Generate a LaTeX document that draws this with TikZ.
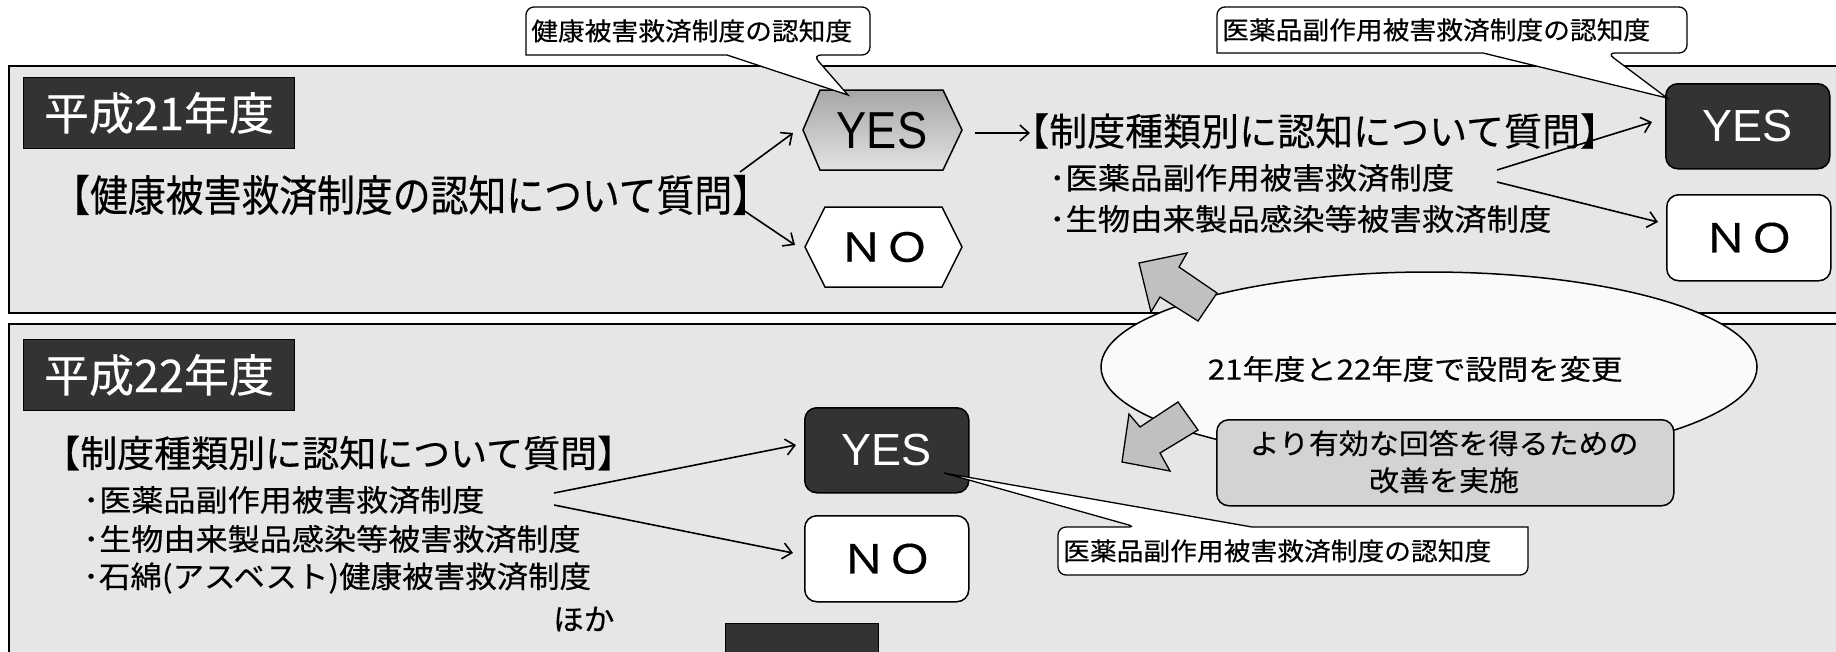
\documentclass[tikz,border=0pt]{standalone}
\usepackage{fontspec}
\usepackage{graphicx}
\setmainfont{Liberation Sans}
\newfontfamily\jp[FakeBold=0.35]{Noto Sans CJK JP}
\usetikzlibrary{arrows.meta}
\definecolor{panelgray}{HTML}{E6E6E6}
\definecolor{darkfill}{HTML}{333333}
\definecolor{hextop}{HTML}{A6A6A6}
\definecolor{hexbot}{HTML}{E2E2E2}
\definecolor{ellfill}{HTML}{FAFAFA}
\definecolor{blockfill}{HTML}{C0C0C0}
\definecolor{notefill}{HTML}{D3D3D3}
\newcommand{\jtxt}[3]{{\jp\fontsize{#1pt}{#1pt}\selectfont\scalebox{#2}[1]{#3}}}
\newcommand{\ltxt}[3]{{\fontsize{#1pt}{#1pt}\selectfont\scalebox{#2}[1]{#3}}}
\begin{document}
\begin{tikzpicture}[x=1pt,y=-1pt,
  panelst/.style={fill=panelgray,draw=black,line width=2.2pt},
  titlebox/.style={fill=darkfill,draw=black,line width=1pt,text=white,inner sep=0pt,minimum width=271pt,minimum height=71pt},
  darkbox/.style={fill=darkfill,draw=black,line width=1.5pt,rounded corners=12pt,text=white,inner sep=0pt,minimum width=164pt,minimum height=85pt},
  whitebox/.style={fill=white,draw=black,line width=1.5pt,rounded corners=12pt,inner sep=0pt,minimum width=164pt,minimum height=86pt},
  txt/.style={inner sep=0pt},
  arr/.style={line width=1.6pt,-{Straight Barb[length=9pt,width=16pt]}},
  hexst/.style={draw=black,line width=1.5pt},
  blockarr/.style={fill=blockfill,draw=black,line width=1.3pt,line join=miter},
  callst/.style={fill=white,draw=black,line width=1.3pt},
  notest/.style={fill=notefill,draw=black,line width=1.5pt,rounded corners=12pt,inner sep=0pt,minimum width=457pt,minimum height=86pt}
]
\useasboundingbox (0,0) rectangle (1836,651);
\clip (0,0) rectangle (1836,651);

% panels
\draw[panelst] (9,66) rectangle (1870,313);
\draw[panelst] (9,324) rectangle (1870,690);

% titles
\node[titlebox,anchor=north west] (t21) at (23,77) {\jtxt{45}{1.0}{平成21年度}};
\node[titlebox,anchor=north west] (t22) at (23,339) {\jtxt{45}{1.0}{平成22年度}};

% ---- panel 1
\node[txt,anchor=west] (q1) at (52,195) {\jtxt{43}{0.88}{【健康被害救済制度の認知について質問】}};

\draw[hexst,top color=hextop,bottom color=hexbot] (803,130) -- (820,90) -- (943,90) -- (962,130) -- (943,170) -- (820,170) -- cycle;
\node[txt] (hexyes) at (882,131) {\ltxt{52}{0.87}{YES}};
\draw[hexst,fill=white] (805,247) -- (825,207) -- (942,207) -- (962,247) -- (942,287) -- (825,287) -- cycle;
\node[txt] (hexno) at (884,247) {\jtxt{40}{1.15}{ＮＯ}};

\coordinate (q1a) at (740,172); \coordinate (hya) at (793,133);
\coordinate (q1b) at (743,210); \coordinate (hna) at (795,245);
\draw[arr] (q1a) -- (hya);
\draw[arr] (q1b) -- (hna);

\node[txt,anchor=west] (q2) at (1011,131) {\jtxt{38}{1}{【制度種類別に認知について質問】}};
\coordinate (hyb) at (975,133); \coordinate (q2a) at (1030,133);
\draw[arr] (hyb) -- (q2a);
\node[txt,anchor=west] (b11) at (1049,178) {\jtxt{30}{1.08}{･医薬品副作用被害救済制度}};
\node[txt,anchor=west] (b12) at (1049,219) {\jtxt{30}{1.08}{･生物由来製品感染等被害救済制度}};

\node[darkbox,anchor=north west] (y1) at (1665,83) {\ltxt{45}{1}{YES}};
\node[whitebox,anchor=north west] (n1) at (1666,194) {\jtxt{40}{1.15}{ＮＯ}};
\coordinate (b11a) at (1497,170); \coordinate (y1a) at (1652,122);
\coordinate (b11b) at (1497,182); \coordinate (n1a) at (1658,222);
\draw[arr] (b11a) -- (y1a);
\draw[arr] (b11b) -- (n1a);

% ---- panel 2
\node[txt,anchor=west] (q3) at (43,453) {\jtxt{37}{1}{【制度種類別に認知について質問】}};
\node[txt,anchor=west] (b21) at (83,500) {\jtxt{30}{1.07}{･医薬品副作用被害救済制度}};
\node[txt,anchor=west] (b22) at (83,539) {\jtxt{30}{1.07}{･生物由来製品感染等被害救済制度}};
\node[txt,anchor=west] (b23) at (83,578) {\jtxt{30}{1.05}{･石綿(アスベスト)健康被害救済制度}};
\node[txt,anchor=west] (b24) at (553,619) {\jtxt{30}{1.02}{ほか}};

\node[darkbox,anchor=north west] (y2) at (804,407) {\ltxt{45}{1}{YES}};
\node[whitebox,anchor=north west] (n2) at (804,515) {\jtxt{40}{1.15}{ＮＯ}};
\coordinate (b21a) at (554,493); \coordinate (y2a) at (796,445);
\coordinate (b21b) at (554,505); \coordinate (n2a) at (793,553);
\draw[arr] (b21a) -- (y2a);
\draw[arr] (b21b) -- (n2a);

\node[fill=darkfill,draw=black,line width=1pt,anchor=north west,minimum width=153pt,minimum height=50pt,inner sep=0pt] (btm) at (725,623) {};

% ---- ellipse and block arrows
\draw[fill=ellfill,draw=black,line width=1.5pt] (1429,367) ellipse [x radius=328pt,y radius=95pt];
\node[txt] (ellt) at (1415,369) {\jtxt{28}{1.12}{21年度と22年度で設問を変更}};

\draw[blockarr] (1139,263) -- (1187,253) -- (1179,267) -- (1217,293) -- (1198,321) -- (1160,297) -- (1151,312) -- cycle;
\draw[blockarr] (1122,462) -- (1129,414) -- (1140,427) -- (1178,402) -- (1198,430) -- (1160,453) -- (1170,471) -- cycle;

\node[notest,anchor=north west] (nb) at (1216,419) {};
\node[txt] (nbt) at (1444,465) {\jp\fontsize{28pt}{37pt}\selectfont\scalebox{1.07}[1]{\begin{tabular}{@{}c@{}}より有効な回答を得るための\\改善を実施\end{tabular}}};

% ---- callouts
\coordinate (c1tip) at (848,95);
\draw[callst] (700,7) [rounded corners=8pt] -- (870,7) -- (870,55) -- (813,55) [sharp corners] -- (c1tip) -- (727,55) -- (526,55) [rounded corners=8pt] -- (526,7) -- cycle;
\node[txt,anchor=west] (c1t) at (531,31) {\jtxt{25}{1.07}{健康被害救済制度の認知度}};

\coordinate (c2tip) at (1667,98);
\draw[callst] (1400,7) [rounded corners=8pt] -- (1687,7) -- (1687,53) -- (1607,53) [sharp corners] -- (c2tip) -- (1483,53) -- (1217,53) [rounded corners=8pt] -- (1217,7) -- cycle;
\node[txt,anchor=west] (c2t) at (1222,30) {\jtxt{25}{1.07}{医薬品副作用被害救済制度の認知度}};

\coordinate (c3tip) at (944,473);
\draw[callst] (1300,575) [rounded corners=8pt] -- (1058,575) -- (1058,527) -- (1136,527) [sharp corners] -- (c3tip) -- (1252,527) -- (1528,527) [rounded corners=8pt] -- (1528,575) -- cycle;
\node[txt,anchor=west] (c3t) at (1063,551) {\jtxt{25}{1.07}{医薬品副作用被害救済制度の認知度}};

\end{tikzpicture}
\end{document}
